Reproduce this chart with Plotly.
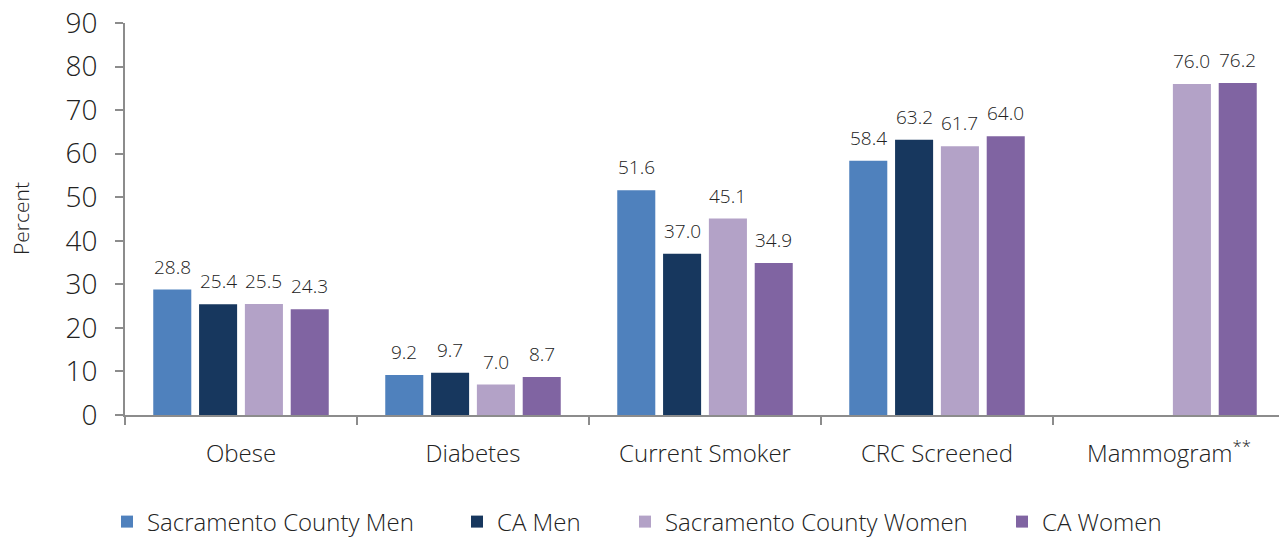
import plotly.graph_objects as go

categories = ["Obese", "Diabetes", "Current Smoker", "CRC Screened", "Mammogram<sup>**</sup>"]
sc_men = [28.8, 9.2, 51.6, 58.4, None]
ca_men = [25.4, 9.7, 37.0, 63.2, None]
sc_women = [25.5, 7.0, 45.1, 61.7, 76.0]
ca_women = [24.3, 8.7, 34.9, 64.0, 76.2]
y_ticks = [0, 10, 20, 30, 40, 50, 60, 70, 80, 90]

series = [
    ("Sacramento County Men", sc_men, "#4F81BD"),
    ("CA Men", ca_men, "#17375E"),
    ("Sacramento County Women", sc_women, "#B3A2C7"),
    ("CA Women", ca_women, "#8064A2"),
]

FONT = "'Open Sans', Lato, sans-serif"
TXT = "#222222"
# the page body has an 8px margin, so the figure is 8px smaller than the window
W, H = 1279, 529
ML, MR, MT, MB = 117, 2, 15, 122
BARGAP, GROUPGAP = 0.21, 0.17

# legend left edges in figure px
legend_x = [99, 449, 617, 994]

fig = go.Figure()
n = len(series)
plot_w = W - ML - MR
cat_px = plot_w / len(categories)
slot_px = cat_px * (1 - BARGAP) / n
for i, (name, vals, color) in enumerate(series):
    xs = [c for c, v in zip(categories, vals) if v is not None]
    ys = [v for v in vals if v is not None]
    lg = "legend" if i == 0 else f"legend{i + 1}"
    fig.add_trace(go.Bar(
        x=xs, y=ys, name=name, legend=lg,
        marker=dict(color=color, line=dict(width=0)),
    ))
    shift = (i - (n - 1) / 2) * slot_px
    for c, v in zip(xs, ys):
        fig.add_annotation(
            x=c, y=v, text=f"{v:.1f}", showarrow=False,
            xshift=shift, yshift=8, yanchor="bottom",
            font=dict(size=19, color=TXT, family=FONT, weight=300),
        )

legends = {}
for i, lx in enumerate(legend_x):
    key = "legend" if i == 0 else f"legend{i + 1}"
    legends[key] = dict(
        orientation="h", xref="container", yref="container",
        x=lx / W, xanchor="left", y=1 - 514 / H, yanchor="middle",
        font=dict(size=24, color=TXT, family=FONT, weight=300),
        bgcolor="rgba(0,0,0,0)",
    )

fig.update_layout(
    width=W, height=H,
    margin=dict(l=ML, r=MR, t=MT, b=MB, autoexpand=False),
    paper_bgcolor="white", plot_bgcolor="white",
    barmode="group", bargap=BARGAP, bargroupgap=GROUPGAP,
    font=dict(family=FONT, color=TXT),
    showlegend=True,
    xaxis=dict(
        showline=True, linecolor="#8c8c8c", linewidth=2,
        ticks="outside", tickson="boundaries", ticklen=8, tickcolor="#8c8c8c", tickwidth=2,
        tickfont=dict(size=24, color=TXT, family=FONT, weight=300),
        ticklabelstandoff=16, ticklabeloverflow="allow",
        showgrid=False, automargin=False,
    ),
    yaxis=dict(
        range=[0, 90], tickvals=y_ticks,
        showline=True, linecolor="#8c8c8c", linewidth=2,
        ticks="outside", ticklen=8, tickcolor="#8c8c8c", tickwidth=2,
        tickfont=dict(size=28, color=TXT, family=FONT, weight=300),
        ticklabelstandoff=12, ticklabeloverflow="allow",
        showgrid=False, zeroline=False, automargin=False,
    ),
    annotations=list(fig.layout.annotations) + [dict(
        text="Percent", xref="paper", yref="paper", x=(13 - ML) / plot_w, y=0.5,
        xanchor="center", yanchor="middle", textangle=-90, showarrow=False,
        font=dict(size=21, color=TXT, family=FONT, weight=300),
    )],
    **legends,
)

fig.write_html("out.html")
